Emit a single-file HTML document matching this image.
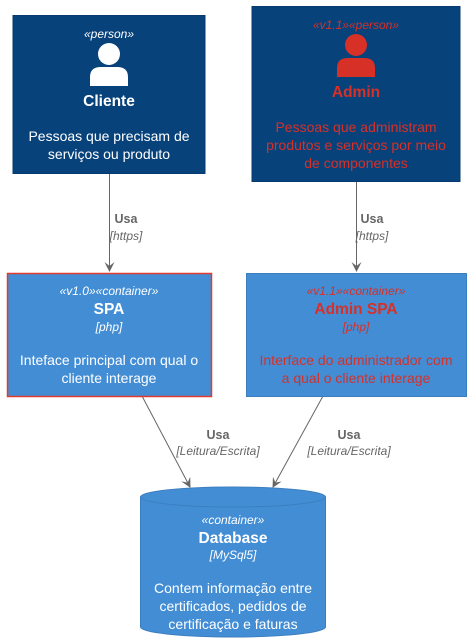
<!DOCTYPE html>
<html><head><meta charset="utf-8"><style>
html,body{margin:0;padding:0;background:#fff;width:470px;height:643px;overflow:hidden}
svg{display:block;font-family:"Liberation Sans",Arial,sans-serif}
</style></head><body>
<svg width="470" height="643" viewBox="0 0 470 643" xmlns="http://www.w3.org/2000/svg">
<defs>
<marker id="ah" markerWidth="10" markerHeight="10" refX="9" refY="5" orient="auto" markerUnits="userSpaceOnUse">
<path d="M0,0 L10,5 L0,10 L4,5 Z" fill="#666"/>
</marker>
</defs>
<line x1="109.5" y1="173" x2="109.5" y2="271" stroke="#666" stroke-width="1" marker-end="url(#ah)"/>
<line x1="356.5" y1="181" x2="356.5" y2="271" stroke="#666" stroke-width="1" marker-end="url(#ah)"/>
<line x1="142" y1="396" x2="190" y2="487" stroke="#666" stroke-width="1" marker-end="url(#ah)"/>
<line x1="323" y1="396" x2="273" y2="487" stroke="#666" stroke-width="1" marker-end="url(#ah)"/>
<g fill="#666" text-anchor="middle" font-size="12.5">
<text x="126" y="223" font-weight="bold">Usa</text>
<text x="126" y="240" font-style="italic" font-size="12">[https]</text>
<text x="372" y="223" font-weight="bold">Usa</text>
<text x="372" y="240" font-style="italic" font-size="12">[https]</text>
<text x="218" y="439" font-weight="bold">Usa</text>
<text x="218" y="455" font-style="italic" font-size="12">[Leitura/Escrita]</text>
<text x="349" y="439" font-weight="bold">Usa</text>
<text x="349" y="455" font-style="italic" font-size="12">[Leitura/Escrita]</text>
</g>
<rect x="13" y="15.5" width="192" height="158" fill="#08427b" stroke="#073b6f"/>
<g fill="#fff" text-anchor="middle">
<text x="109" y="38" font-size="12" font-style="italic">«person»</text>
<circle cx="109" cy="54" r="11"/>
<path d="M90,86 L90,77 Q90,67 101,67 L117,67 Q128,67 128,77 L128,86 Z"/>
<text x="109" y="106" font-size="15.5" font-weight="bold">Cliente</text>
<text x="109" y="141" font-size="14">Pessoas que precisam de</text>
<text x="109" y="159" font-size="14">serviços ou produto</text>
</g>
<rect x="252" y="6.5" width="208" height="175" fill="#08427b" stroke="#073b6f"/>
<g fill="#d73027" text-anchor="middle">
<text x="356" y="29" font-size="12" font-style="italic">«v1.1»«person»</text>
<circle cx="356" cy="45" r="11"/>
<path d="M337,77 L337,68 Q337,58 348,58 L364,58 Q375,58 375,68 L375,77 Z"/>
<text x="356" y="97" font-size="15.5" font-weight="bold">Admin</text>
<text x="356" y="132" font-size="14">Pessoas que administram</text>
<text x="356" y="150" font-size="14">produtos e serviços por meio</text>
<text x="356" y="168" font-size="14">de componentes</text>
</g>
<rect x="7.5" y="273.5" width="204" height="123" fill="#438dd5" stroke="#e03b2e" stroke-width="1.5"/>
<g fill="#fff" text-anchor="middle">
<text x="109" y="295" font-size="12" font-style="italic">«v1.0»«container»</text>
<text x="109" y="314" font-size="15.5" font-weight="bold">SPA</text>
<text x="109" y="331" font-size="12" font-style="italic">[php]</text>
<text x="109" y="365" font-size="14">Inteface principal com qual o</text>
<text x="109" y="383" font-size="14">cliente interage</text>
</g>
<rect x="246.5" y="273.5" width="220" height="123" fill="#438dd5" stroke="#3c7fc0"/>
<g fill="#d73027" text-anchor="middle">
<text x="356" y="295" font-size="12" font-style="italic">«v1.1»«container»</text>
<text x="356" y="314" font-size="15.5" font-weight="bold">Admin SPA</text>
<text x="356" y="331" font-size="12" font-style="italic">[php]</text>
<text x="356" y="365" font-size="14">Interface do administrador com</text>
<text x="356" y="383" font-size="14">a qual o cliente interage</text>
</g>
<path d="M140.5,497 A92.5,10 0 0 1 325.5,497 L325.5,627 A92.5,10 0 0 1 140.5,627 Z" fill="#438dd5" stroke="#3c7fc0"/>
<path d="M140.5,497 A92.5,10 0 0 0 325.5,497" fill="none" stroke="#3c7fc0"/>
<g fill="#fff" text-anchor="middle">
<text x="233" y="524" font-size="12" font-style="italic">«container»</text>
<text x="233" y="543" font-size="15.5" font-weight="bold">Database</text>
<text x="233" y="559" font-size="12" font-style="italic">[MySql5]</text>
<text x="233" y="593" font-size="14">Contem informação entre</text>
<text x="233" y="611" font-size="14">certificados, pedidos de</text>
<text x="233" y="629" font-size="14">certificação e faturas</text>
</g>
</svg>
</body></html>
